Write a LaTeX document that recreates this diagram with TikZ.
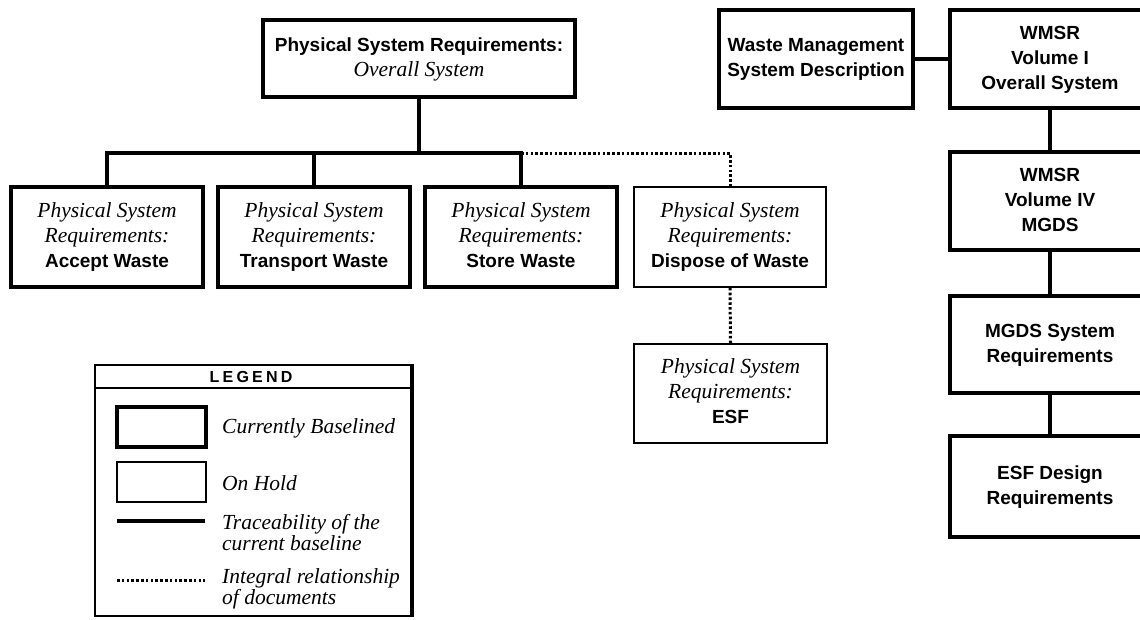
\documentclass[tikz,border=0pt]{standalone}
\usepackage{fontspec}
\setmainfont{Liberation Sans}
\newfontfamily\seriff{Liberation Serif}
\newfontfamily\legfont[LetterSpace=20]{Liberation Sans}
\newcommand{\myit}[1]{{\seriff\itshape\fontsize{21.5}{25}\selectfont\strut #1}}
\newcommand{\mybf}[1]{{\bfseries\fontsize{19}{25}\selectfont\strut #1}}
\tikzset{
  basebox/.style={draw, rectangle, inner sep=0pt, align=center, font=\fontsize{19}{25}\selectfont},
  thickbox/.style={basebox, line width=3.2pt},
  thinbox/.style={basebox, line width=1.7pt},
  conn/.style={line width=3.2pt},
  dotconn/.style={line width=3pt, dash pattern=on 2.6pt off 2.2pt},
  legtext/.style={anchor=west, align=left, inner sep=0pt, font=\seriff\itshape\fontsize{21.5}{21}\selectfont},
}
\begin{document}
\begin{tikzpicture}[x=1pt,y=-1pt]
\path[use as bounding box] (0,0) rectangle (1140,619);

% left tree
\node[thickbox, minimum width=312, minimum height=77] (top) at (419,58.5)
  {\mybf{Physical System Requirements:}\\\myit{Overall System}};
\node[thickbox, minimum width=192, minimum height=100] (b1) at (107,237)
  {\myit{Physical System}\\\myit{Requirements:}\\\mybf{Accept Waste}};
\node[thickbox, minimum width=192, minimum height=100] (b2) at (314,237)
  {\myit{Physical System}\\\myit{Requirements:}\\\mybf{Transport Waste}};
\node[thickbox, minimum width=192, minimum height=100] (b3) at (521,237)
  {\myit{Physical System}\\\myit{Requirements:}\\\mybf{Store Waste}};
\node[thinbox, minimum width=192, minimum height=100] (b4) at (730,237)
  {\myit{Physical System}\\\myit{Requirements:}\\\mybf{Dispose of Waste}};
\node[thinbox, minimum width=193, minimum height=99] (esf) at (730.5,393.5)
  {\myit{Physical System}\\\myit{Requirements:}\\\mybf{ESF}};

\coordinate (bus) at (419,153);
\draw[conn] (top.south) -- (top.south |- bus);
\draw[conn] (b1.north) -- (b1.north |- bus) -- (b3.north |- bus) -- (b3.north);
\draw[conn] (b2.north) -- (b2.north |- bus);
\draw[dotconn] (b3.north |- bus) -- (b4.north |- bus) -- (b4.north);
\draw[dotconn] (b4.south) -- (esf.north);

% right column
\node[thickbox, minimum width=194, minimum height=98] (wms) at (816,59)
  {\mybf{Waste Management}\\\mybf{System Description}};
\node[thickbox, minimum width=200, minimum height=98] (v1) at (1050,59)
  {\mybf{WMSR}\\\mybf{Volume I}\\\mybf{Overall System}};
\node[thickbox, minimum width=200, minimum height=98] (v4) at (1050,201)
  {\mybf{WMSR}\\\mybf{Volume IV}\\\mybf{MGDS}};
\node[thickbox, minimum width=200, minimum height=97] (mgds) at (1050,344.5)
  {\mybf{MGDS System}\\\mybf{Requirements}};
\node[thickbox, minimum width=200, minimum height=101] (esfd) at (1050,486.5)
  {\mybf{ESF Design}\\\mybf{Requirements}};
\draw[conn] (wms.east) -- (v1.west);
\draw[conn] (v1.south) -- (v4.north);
\draw[conn] (v4.south) -- (mgds.north);
\draw[conn] (mgds.south) -- (esfd.north);

% legend
\draw[line width=1.8pt] (95,365) rectangle (413,616);
\draw[line width=1.6pt] (95,388) -- (413,388);
\draw[line width=3.4pt] (412,366) -- (412,616);
\node[inner sep=0pt, font=\legfont\bfseries\fontsize{16}{16}\selectfont] (legtitle) at (251,377) {LEGEND};
\node[thickbox, minimum width=89, minimum height=40] (lk1) at (161.5,427) {};
\node[thinbox, minimum width=89, minimum height=40] (lk2) at (161.5,482) {};
\coordinate (ls1) at (117,521);
\coordinate (ls2) at (205,521);
\coordinate (ld1) at (117,580);
\coordinate (ld2) at (205,580);
\draw[conn] (ls1) -- (ls2);
\draw[dotconn] (ld1) -- (ld2);
\node[legtext] (lt1) at (222,428) {Currently Baselined};
\node[legtext] (lt2) at (222,483) {On Hold};
\node[legtext] (lt3) at (222,533) {Traceability of the\\current baseline};
\node[legtext] (lt4) at (222,589) {Integral relationship\\of documents};
\end{tikzpicture}
\end{document}
